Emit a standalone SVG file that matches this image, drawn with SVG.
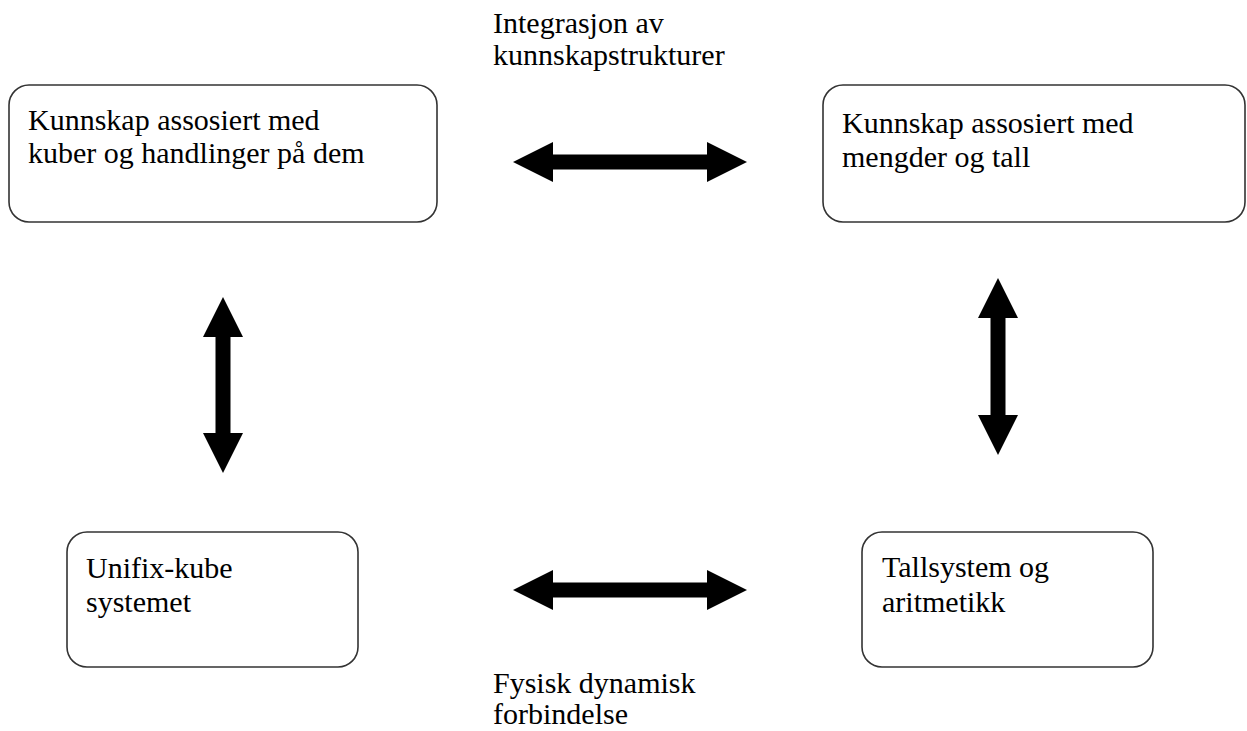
<svg xmlns="http://www.w3.org/2000/svg" width="1247" height="731" viewBox="0 0 1247 731">
<style>
.box{fill:#fff;stroke:#333;stroke-width:1.6}
.t{font-family:"Liberation Serif","Times New Roman",serif;font-size:30px;fill:#000}
.arr{fill:#000}
</style>
<rect width="1247" height="731" fill="#fff"/>
<g id="connectors">
<polygon class="arr" points="513,162 553,142 553,154.5 707,154.5 707,142 747,162 707,182 707,169.5 553,169.5 553,182"/>
<polygon class="arr" points="513,590 553,570 553,582.5 707,582.5 707,570 747,590 707,610 707,597.5 553,597.5 553,610"/>
<polygon class="arr" points="223,297 243,337 230.5,337 230.5,433 243,433 223,473 203,433 215.5,433 215.5,337 203,337"/>
<polygon class="arr" points="998,278 1018,318 1005.5,318 1005.5,415 1018,415 998,455 978,415 990.5,415 990.5,318 978,318"/>
<text class="t" x="493" y="33">Integrasjon av</text>
<text class="t" x="493" y="65">kunnskapstrukturer</text>
<text class="t" x="493" y="693">Fysisk dynamisk</text>
<text class="t" x="493" y="724">forbindelse</text>
</g>
<g id="node-kuber">
<rect class="box" x="9" y="85" width="428" height="137" rx="20" ry="20"/>
<text class="t" x="28" y="130">Kunnskap assosiert med</text>
<text class="t" x="28" y="163">kuber og handlinger på dem</text>
</g>
<g id="node-mengder">
<rect class="box" x="823" y="85" width="422" height="137" rx="20" ry="20"/>
<text class="t" x="842" y="133">Kunnskap assosiert med</text>
<text class="t" x="842" y="167">mengder og tall</text>
</g>
<g id="node-unifix">
<rect class="box" x="67" y="532" width="291" height="135" rx="20" ry="20"/>
<text class="t" x="86" y="578">Unifix-kube</text>
<text class="t" x="86" y="612">systemet</text>
</g>
<g id="node-tallsystem">
<rect class="box" x="862" y="532" width="291" height="135" rx="20" ry="20"/>
<text class="t" x="882" y="577">Tallsystem og</text>
<text class="t" x="882" y="612">aritmetikk</text>
</g>
</svg>
